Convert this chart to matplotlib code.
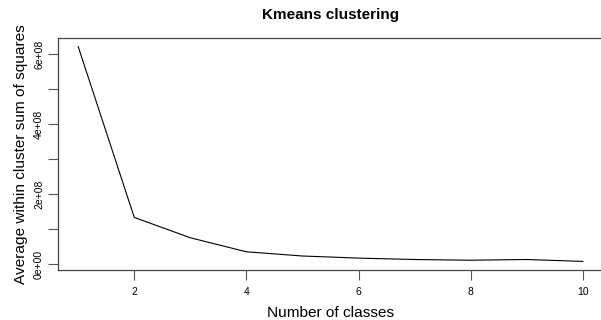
import matplotlib
matplotlib.use("Agg")
import matplotlib.pyplot as plt
from matplotlib.ticker import FixedLocator, FuncFormatter

# Values
n_classes = [1, 2, 3, 4, 5, 6, 7, 8, 9, 10]
avg_withinss = [6.21e8, 1.34e8, 0.76e8, 0.36e8, 0.24e8, 0.18e8, 0.14e8, 0.12e8, 0.14e8, 0.086e8]

x_ticks = [2, 4, 6, 8, 10]
y_ticks = [0, 2e8, 4e8, 6e8]
y_minor = [1e8, 3e8, 5e8]

plt.rcParams["font.family"] = ["Liberation Sans", "DejaVu Sans"]

W, H = 601, 320
fig = plt.figure(figsize=(W / 100, H / 100), dpi=100)
ax = fig.add_axes([58 / W, (H - 270) / H, (603 - 58) / W, (270 - 38) / H])

ax.plot(n_classes, avg_withinss, color="black", linewidth=0.8)

# R-style 4% padding
xmin, xmax = min(n_classes), max(n_classes)
ymin, ymax = min(avg_withinss), max(avg_withinss)
dx = (xmax - xmin) * 0.04
dy = (ymax - ymin) * 0.04
ax.set_xlim(xmin - dx, xmax + dx)
ax.set_ylim(ymin - dy, ymax + dy)

ax.xaxis.set_major_locator(FixedLocator(x_ticks))
ax.yaxis.set_major_locator(FixedLocator(y_ticks))
ax.yaxis.set_minor_locator(FixedLocator(y_minor))
ax.yaxis.set_major_formatter(FuncFormatter(lambda v, p: f"{v:.0e}"))

ax.tick_params(axis="both", which="both", direction="out", length=7, width=0.8,
               color="#555555", labelsize=7.5)
ax.tick_params(axis="x", pad=5)
ax.tick_params(axis="y", which="both", labelrotation=90, pad=3)
for lbl in ax.get_yticklabels():
    lbl.set_va("center")

for side in ["left", "bottom", "top"]:
    ax.spines[side].set_linewidth(0.9)
    ax.spines[side].set_color("#444444")
ax.spines["right"].set_visible(False)

ax.set_title("Kmeans clustering", fontsize=11, fontweight="bold", pad=14)
ax.set_xlabel("Number of classes", fontsize=11.1, labelpad=6.5)
ax.set_ylabel("Average within cluster sum of squares", fontsize=11.1, labelpad=4.5)

fig.savefig("out.png", dpi=100)
